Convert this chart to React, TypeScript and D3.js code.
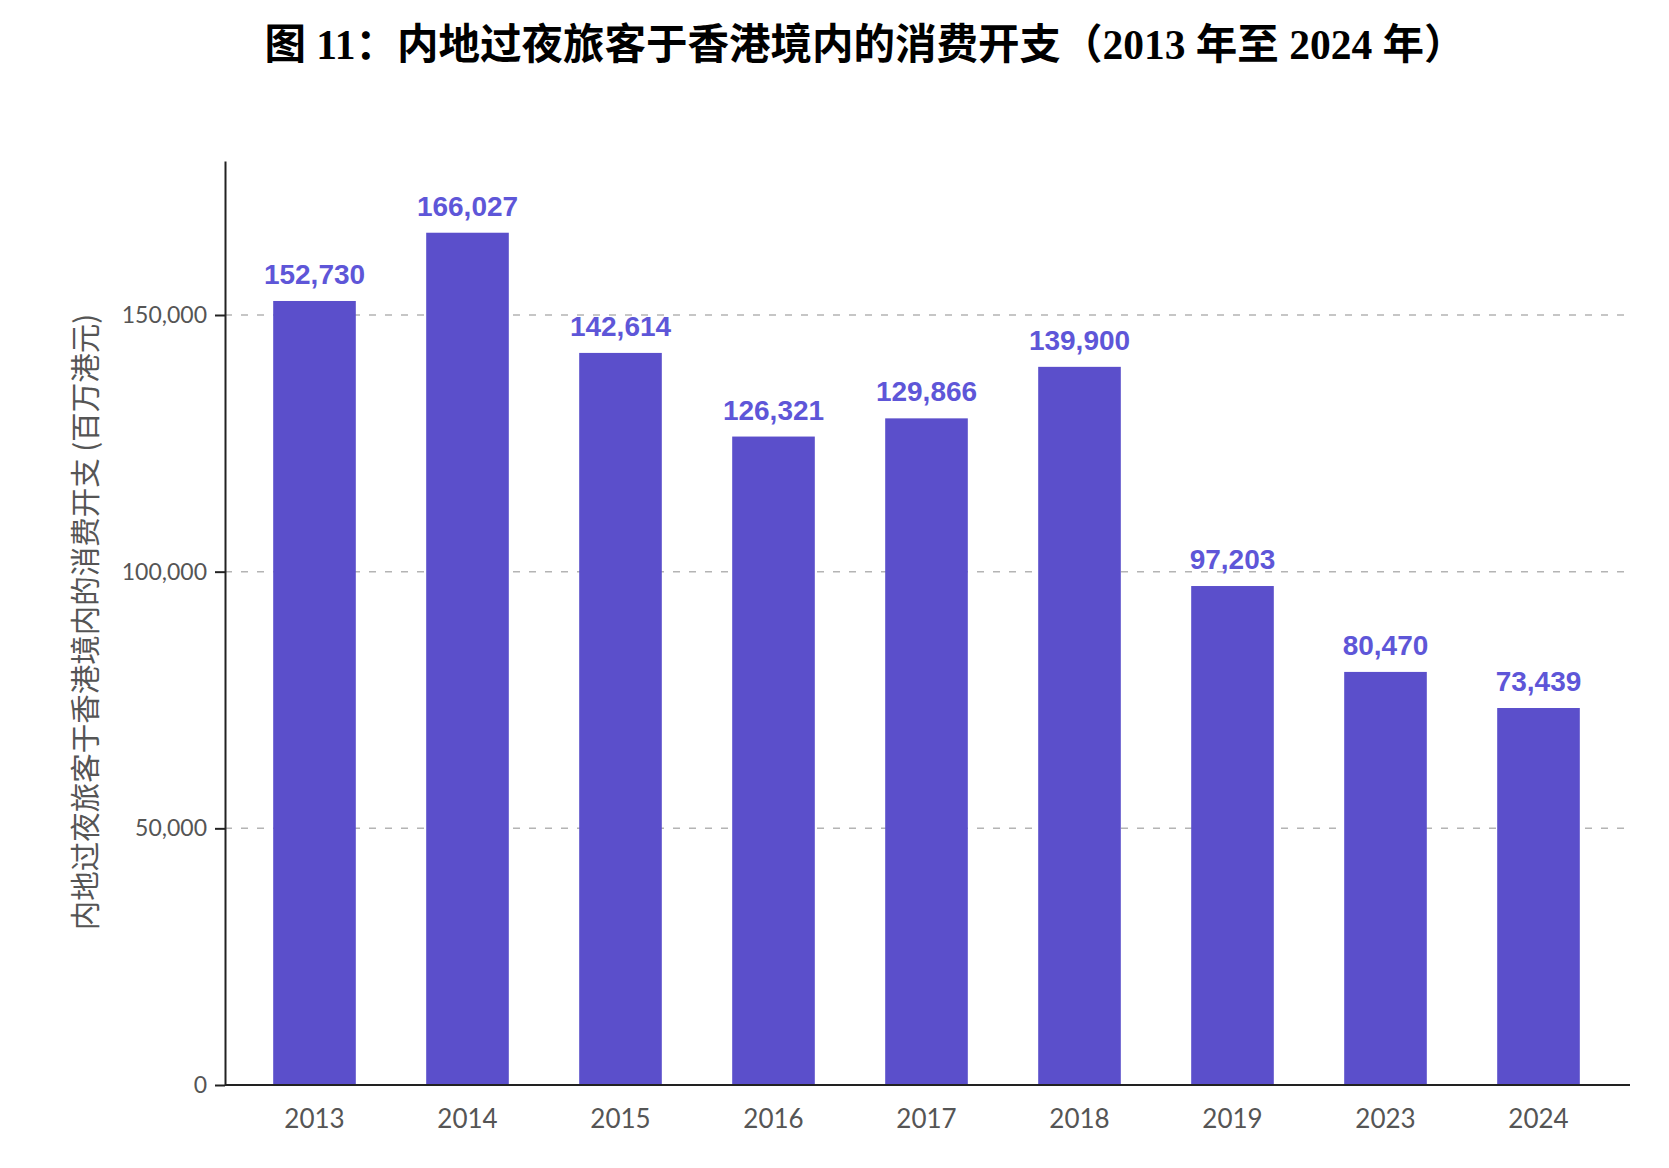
import { useEffect, useRef } from "react";
import * as d3 from "d3";

const years = ["2013", "2014", "2015", "2016", "2017", "2018", "2019", "2023", "2024"];
const spending = [152730, 166027, 142614, 126321, 129866, 139900, 97203, 80470, 73439];
const yTicks = [0, 50000, 100000, 150000];

const title = "图 11：内地过夜旅客于香港境内的消费开支（2013 年至 2024 年）";
const yTitle = "内地过夜旅客于香港境内的消费开支 (百万港元)";

export default function App() {
  const width = 1669;
  const height = 1168;
  const svgRef = useRef<SVGSVGElement>(null);

  useEffect(() => {
    document.body.style.margin = "0";
    const svg = d3.select(svgRef.current);
    svg.selectAll("*").remove();

    const x = d3
      .scaleBand<string>()
      .domain(years)
      .range([238, 1615])
      .paddingInner(0.46)
      .paddingOuter(0.23);
    const y = d3.scaleLinear().domain([0, 180000]).range([1085, 161]);

    const axisLeft = 225;
    const axisRight = 1630;

    // title
    svg
      .append("text")
      .attr("x", 865)
      .attr("y", 59)
      .attr("text-anchor", "middle")
      .attr("font-family", "'Liberation Serif', 'Noto Sans CJK SC', serif")
      .attr("font-weight", "bold")
      .attr("font-size", 41.5)
      .attr("fill", "#000")
      .text(title);

    // gridlines
    svg
      .append("g")
      .selectAll("line")
      .data(yTicks.filter((t) => t > 0))
      .join("line")
      .attr("x1", axisLeft)
      .attr("x2", 1627)
      .attr("y1", (d) => y(d))
      .attr("y2", (d) => y(d))
      .attr("stroke", "#b4b4b4")
      .attr("stroke-width", 1.5)
      .attr("stroke-dasharray", "7,9");

    // bars
    svg
      .append("g")
      .selectAll("rect")
      .data(spending)
      .join("rect")
      .attr("x", (_, i) => x(years[i])!)
      .attr("y", (d) => y(d))
      .attr("width", x.bandwidth())
      .attr("height", (d) => y(0) - y(d))
      .attr("fill", "#5b4fcb");

    // value labels
    svg
      .append("g")
      .selectAll("text")
      .data(spending)
      .join("text")
      .attr("x", (_, i) => x(years[i])! + x.bandwidth() / 2)
      .attr("y", (d) => y(d) - 17)
      .attr("text-anchor", "middle")
      .attr("font-family", "'Liberation Sans', Arial, sans-serif")
      .attr("font-weight", "bold")
      .attr("font-size", 28)
      .attr("fill", "#5e56d8")
      .text((d) => d3.format(",")(d));

    // y axis
    const yAxis = svg
      .append("g")
      .attr("transform", `translate(${axisLeft},0)`)
      .call(
        d3
          .axisLeft(y)
          .tickValues(yTicks)
          .tickSizeInner(10)
          .tickSizeOuter(0)
          .tickPadding(8)
          .tickFormat((d) => d3.format(",")(d as number))
      );
    yAxis.select(".domain").attr("stroke", "#222").attr("stroke-width", 2);
    yAxis.selectAll(".tick line").attr("stroke", "#222").attr("stroke-width", 2);
    yAxis
      .selectAll(".tick text")
      .attr("font-family", "Lato, sans-serif")
      .attr("font-size", 23)
      .attr("fill", "#555");

    // x axis
    svg
      .append("line")
      .attr("x1", axisLeft)
      .attr("x2", axisRight)
      .attr("y1", y(0))
      .attr("y2", y(0))
      .attr("stroke", "#222")
      .attr("stroke-width", 2);
    svg
      .append("g")
      .selectAll("text")
      .data(years)
      .join("text")
      .attr("x", (d) => x(d)! + x.bandwidth() / 2)
      .attr("y", 1128)
      .attr("text-anchor", "middle")
      .attr("font-family", "Lato, sans-serif")
      .attr("font-size", 26)
      .attr("fill", "#555")
      .text((d) => d);

    // y title
    svg
      .append("text")
      .attr("transform", "translate(96,622) rotate(-90)")
      .attr("text-anchor", "middle")
      .attr("font-family", "'Noto Sans CJK SC', sans-serif")
      .attr("font-size", 29.5)
      .attr("fill", "#555")
      .text(yTitle);
  }, []);

  return <svg ref={svgRef} width={width} height={height} style={{ display: "block", background: "#fff" }}></svg>;
}
